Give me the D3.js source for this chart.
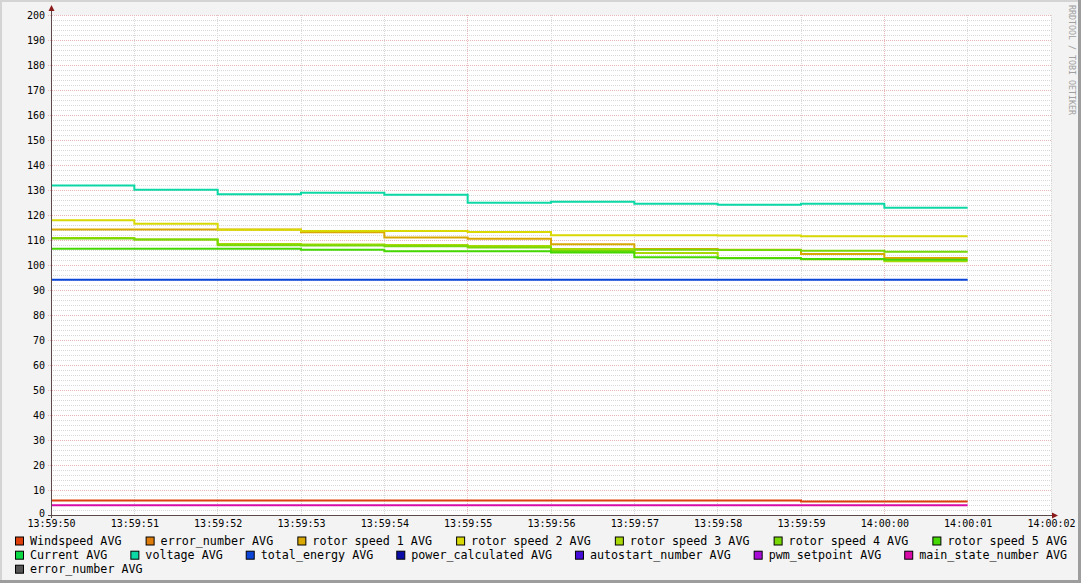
<!DOCTYPE html>
<html><head><meta charset="utf-8">
<script src="https://cdn.jsdelivr.net/npm/d3@7/dist/d3.min.js"></script>
<style>
html,body{margin:0;padding:0;background:#fff;}
svg{display:block;}
text{font-family:"DejaVu Sans Mono",monospace;}
</style></head>
<body>
<script>
// ---- data ----
const startTime = "13:59:50";
const endTime = "14:00:02";
const stepSeconds = 1;
const yTicks = [0,10,20,30,40,50,60,70,80,90,100,110,120,130,140,150,160,170,180,190,200];

const seriesNames = ["Windspeed AVG","error_number AVG","rotor speed 1 AVG","rotor speed 2 AVG","rotor speed 3 AVG","rotor speed 4 AVG","rotor speed 5 AVG","Current AVG","voltage AVG","total_energy AVG","power_calculated AVG","autostart_number AVG","pwm_setpoint AVG","main_state_number AVG","error_number AVG"];
const seriesColors = ["#dd3f0b","#dd7b0b","#d9a805","#d8d805","#a8d805","#78d805","#45d805","#0bd845","#0bd8a5","#0b45d8","#0b0ba8","#450bd8","#a80bd8","#d80ba8","#555555"];

// one value per 1-second interval, 13:59:50 .. 14:00:01
const windspeed      = [5.8,5.8,5.8,5.8,5.8,5.8,5.8,5.8,5.8,5.4,5.4];
const errorNumber    = [null,null,null,null,null,null,null,null,null,null,null];
const rotorSpeed1    = [114.2,114.2,114.2,113.1,111.0,110.5,108.3,106.4,106.1,104.4,102.8];
const rotorSpeed2    = [117.9,116.5,114.1,113.6,113.6,113.2,111.9,111.9,111.8,111.5,111.5];
const rotorSpeed3    = [110.8,110.2,108.4,108.2,108.0,107.6,106.4,104.8,102.8,102.3,101.5];
const rotorSpeed4    = [110.6,110.2,107.9,107.8,107.5,107.0,105.6,106.1,106.0,105.7,105.3];
const rotorSpeed5    = [106.5,106.5,106.5,106.1,105.5,105.5,105.0,103.1,102.7,102.4,102.1];
const current        = [null,null,null,null,null,null,null,null,null,null,null];
const voltage        = [131.8,130.1,128.3,128.9,128.1,124.9,125.3,124.5,124.1,124.5,122.9];
const totalEnergy    = [94.1,94.1,94.1,94.1,94.1,94.1,94.1,94.1,94.1,94.1,94.1];
const powerCalculated= [null,null,null,null,null,null,null,null,null,null,null];
const autostartNumber= [null,null,null,null,null,null,null,null,null,null,null];
const pwmSetpoint    = [null,null,null,null,null,null,null,null,null,null,null];
const mainStateNumber= [3.9,3.9,3.9,3.9,3.9,3.9,3.9,3.9,3.9,3.9,3.9];
const errorNumber2   = [null,null,null,null,null,null,null,null,null,null,null];

const seriesValues = [windspeed,errorNumber,rotorSpeed1,rotorSpeed2,rotorSpeed3,rotorSpeed4,rotorSpeed5,current,voltage,totalEnergy,powerCalculated,autostartNumber,pwmSetpoint,mainStateNumber,errorNumber2];
const legendRows = [[0,1,2,3,4,5,6],[7,8,9,10,11,12,13],[14]];
const watermark = "RRDTOOL / TOBI OETIKER";

// ---- layout ----
const W = 1081, H = 583;
const L = 51, R = 1051, T = 15, B = 515;
const parseT = s => { const [h,m,sec] = s.split(":").map(Number); return new Date(2020,0,1,h,m,sec); };
const t0 = parseT(startTime), t1 = parseT(endTime);

const svg = d3.select("body").append("svg").attr("width",W).attr("height",H);
// frame
svg.append("rect").attr("width",W).attr("height",H).attr("fill","#f3f3f3");
svg.append("rect").attr("x",0).attr("y",0).attr("width",W).attr("height",2).attr("fill","#d4d4d4");
svg.append("rect").attr("x",0).attr("y",0).attr("width",2).attr("height",H).attr("fill","#d4d4d4");
svg.append("rect").attr("x",W-3).attr("y",0).attr("width",3).attr("height",H).attr("fill","#9d9d9d");
svg.append("rect").attr("x",0).attr("y",H-3).attr("width",W).attr("height",3).attr("fill","#9d9d9d");
// plot area
svg.append("rect").attr("x",L).attr("y",T).attr("width",R-L).attr("height",B-T).attr("fill","#ffffff");

const x = d3.scaleTime().domain([t0,t1]).range([L,R]);
const y = d3.scaleLinear().domain([0,200]).range([B,T]);

// grid
const g = svg.append("g");
const minorY = d3.range(0,201,2).filter(v=>v%10!==0);
g.selectAll(".mh").data(minorY).join("line")
  .attr("x1",L).attr("x2",R+1).attr("y1",d=>Math.round(y(d))+0.5).attr("y2",d=>Math.round(y(d))+0.5)
  .attr("stroke","#d8d8d8").attr("stroke-dasharray","1,1");
const secs = x.ticks(d3.timeSecond.every(stepSeconds));
g.selectAll(".mv").data(secs.filter(d=>d.getSeconds()%5!==0))
  .join("line").attr("x1",d=>Math.floor(x(d))+0.5).attr("x2",d=>Math.floor(x(d))+0.5)
  .attr("y1",T).attr("y2",B+2).attr("stroke","#d8d8d8").attr("stroke-dasharray","1,1");
g.selectAll(".Mv").data(secs.filter(d=>d.getSeconds()%5===0 && +d!==+t0))
  .join("line").attr("x1",d=>Math.floor(x(d))+0.5).attr("x2",d=>Math.floor(x(d))+0.5)
  .attr("y1",T).attr("y2",B+2).attr("stroke","#e8b8b8").attr("stroke-dasharray","1,1");
g.selectAll(".Mh").data(yTicks.filter(v=>v>0))
  .join("line").attr("x1",L-3).attr("x2",R+1).attr("y1",d=>Math.round(y(d))+0.5).attr("y2",d=>Math.round(y(d))+0.5)
  .attr("stroke","#e8b8b8").attr("stroke-dasharray","1,1");

// axes labels
const yAxis = d3.axisLeft(y).tickValues(yTicks).tickSize(0).tickPadding(6);
const ya = svg.append("g").attr("transform",`translate(${L},0)`).call(yAxis);
ya.select(".domain").remove();
ya.selectAll("text").attr("font-family","'DejaVu Sans Mono',monospace").attr("font-size","10px").attr("fill","#000");
ya.selectAll(".tick").filter(d=>d===0).select("text").attr("dy","0.1em");

const xAxis = d3.axisBottom(x).ticks(d3.timeSecond.every(stepSeconds)).tickFormat(d3.timeFormat("%H:%M:%S")).tickSize(0).tickPadding(5);
const xa = svg.append("g").attr("transform",`translate(0,${B})`).call(xAxis);
xa.select(".domain").remove();
xa.selectAll("text").attr("font-family","'DejaVu Sans Mono',monospace").attr("font-size","10px").attr("fill","#000");

// series lines
const line = d3.line().x(d=>x(d.t)).y(d=>y(d.v)).curve(d3.curveStepAfter).defined(d=>d.v!=null);
seriesValues.forEach((vals,i)=>{
  if (vals.every(v=>v==null)) return;
  const pts = vals.map((v,k)=>({t:d3.timeSecond.offset(t0,k*stepSeconds), v}));
  pts.push({t:d3.timeSecond.offset(t0,vals.length*stepSeconds), v:vals[vals.length-1]});
  svg.append("path").datum(pts).attr("d",line).attr("fill","none")
    .attr("stroke",seriesColors[i]).attr("stroke-width",2).attr("stroke-linejoin","miter");
});

// axis lines with arrows
svg.append("line").attr("x1",L+0.5).attr("x2",L+0.5).attr("y1",B+3).attr("y2",T-6).attr("stroke","#5a4a4a");
svg.append("line").attr("x1",L-3).attr("x2",R+4).attr("y1",B+0.5).attr("y2",B+0.5).attr("stroke","#5a4a4a");
svg.append("path").attr("d",`M${L-2.5},${T-4}L${L+3.5},${T-4}L${L+0.5},${T-10}Z`).attr("fill","#8b1a1a");
svg.append("path").attr("d",`M${R+1},${B-2.5}L${R+1},${B+3.5}L${R+7},${B+0.5}Z`).attr("fill","#8b1a1a");

// legend (justified rows)
const legendLeft = 15, legendRight = 1067, rowY = [544.5,558.7,572.7];
legendRows.forEach((row,ri)=>{
  const gg = svg.append("g");
  const items = row.map(i=>{
    const t = gg.append("text").attr("y",rowY[ri]).attr("font-size","11.7px").attr("fill","#000").text(seriesNames[i]);
    return {i,t,w:15+t.node().getComputedTextLength()};
  });
  const total = d3.sum(items,d=>d.w);
  const gap = (ri<legendRows.length-1 && items.length>1) ? (legendRight-legendLeft-total)/(items.length-1) : 24;
  let cx = legendLeft;
  items.forEach(it=>{
    gg.append("rect").attr("x",cx+0.5).attr("y",rowY[ri]-7.5).attr("width",8).attr("height",8)
      .attr("fill",seriesColors[it.i]).attr("stroke","#000").attr("stroke-width",1);
    it.t.attr("x",cx+15);
    cx += it.w + gap;
  });
});

// watermark
svg.append("text").attr("transform","translate(1069,5) rotate(90)").attr("font-size","8.3px")
  .attr("fill","#a0a0a0").text(watermark);
</script>
</body></html>
